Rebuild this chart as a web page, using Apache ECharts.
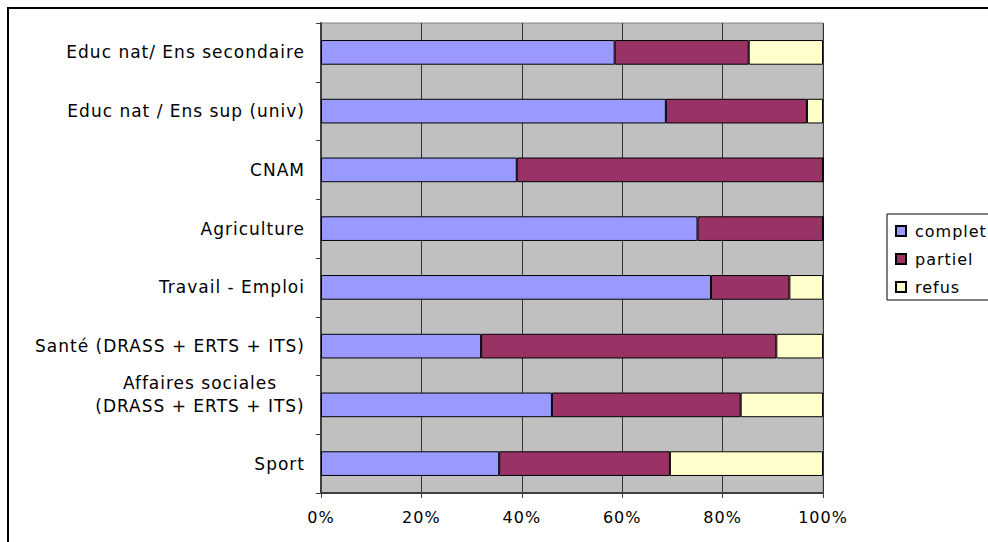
<!DOCTYPE html>
<html>
<head>
<meta charset="utf-8">
<script src="https://cdn.jsdelivr.net/npm/echarts@6/dist/echarts.min.js"></script>
<style>
html,body{margin:0;padding:0;background:#fff;}
#c{width:988px;height:542px;letter-spacing:1px;}
</style>
</head>
<body>
<div id="c"></div>
<script>
const categories = [
  'Educ nat/ Ens secondaire',
  'Educ nat / Ens sup (univ)',
  'CNAM',
  'Agriculture',
  'Travail - Emploi',
  'Santé (DRASS + ERTS + ITS)',
  'Affaires sociales\n(DRASS + ERTS + ITS)',
  'Sport'
];
const complet = [58.5, 68.7, 39.0, 75.0, 77.7, 31.9, 46.0, 35.5];
const partiel = [26.7, 28.1, 61.0, 25.0, 15.6, 58.8, 37.6, 34.0];
const refus   = [14.8, 3.2, 0, 0, 6.7, 9.3, 16.4, 30.5];
const xTicks = [0, 20, 40, 60, 80, 100];

const chart = echarts.init(document.getElementById('c'), null, {renderer: 'svg'});
const font = 'DejaVu Sans, Verdana, sans-serif';
const barStyle = (color) => ({color: color, borderColor: '#000', borderWidth: 1});

const yData = categories.map(c => c.indexOf('\n') >= 0
  ? {value: c, textStyle: {padding: [0, 0, 21, 0]}}
  : c);

chart.setOption({
  animation: false,
  backgroundColor: '#fff',
  graphic: [{
    type: 'rect',
    shape: {x: 8, y: 8, width: 1000, height: 560},
    style: {fill: 'none', stroke: '#000', lineWidth: 2},
    silent: true, z: -10
  }],
  grid: {left: 321, right: 165, top: 23, bottom: 49, show: true,
         backgroundColor: '#C0C0C0', borderColor: '#808080', borderWidth: 1},
  legend: {
    orient: 'vertical', left: 887, top: 214, itemWidth: 10, itemHeight: 10, itemGap: 12,
    padding: [9, 40, 5, 8],
    borderColor: '#000', borderWidth: 1,
    textStyle: {fontFamily: font, fontSize: 16, color: '#000', padding: [0, 0, 0, 4]},
    icon: 'rect',
    data: ['complet', 'partiel', 'refus']
  },
  xAxis: {
    type: 'value', min: 0, max: 100, interval: 20,
    axisLine: {show: true, lineStyle: {color: '#404040', width: 2}},
    axisTick: {show: true, length: 5, lineStyle: {color: '#404040'}},
    splitLine: {show: true, lineStyle: {color: '#333333', width: 1}},
    axisLabel: {formatter: v => xTicks.includes(v) ? v + '%' : '', fontFamily: font, fontSize: 16, color: '#000', margin: 16}
  },
  yAxis: {
    type: 'category', data: yData, inverse: true,
    axisLine: {show: true, lineStyle: {color: '#404040', width: 2}},
    axisTick: {show: true, length: 5, lineStyle: {color: '#404040'}},
    axisLabel: {
      fontFamily: font, fontSize: 17, color: '#000', margin: 16, lineHeight: 23,
      formatter: function (v) {
        if (v.indexOf('\n') >= 0) {
          const p = v.split('\n');
          return '{c|' + p[0] + '}\n{c|' + p[1] + '}';
        }
        return v;
      },
      rich: {c: {width: 210, align: 'center', fontFamily: font, fontSize: 17, color: '#000', lineHeight: 23}}
    }
  },
  series: [
    {name: 'complet', type: 'bar', stack: 's', data: complet, barCategoryGap: '58%', itemStyle: barStyle('#9999FF')},
    {name: 'partiel', type: 'bar', stack: 's', data: partiel, itemStyle: barStyle('#993366')},
    {name: 'refus', type: 'bar', stack: 's', data: refus, itemStyle: barStyle('#FFFFCC')}
  ]
});
</script>
</body>
</html>
